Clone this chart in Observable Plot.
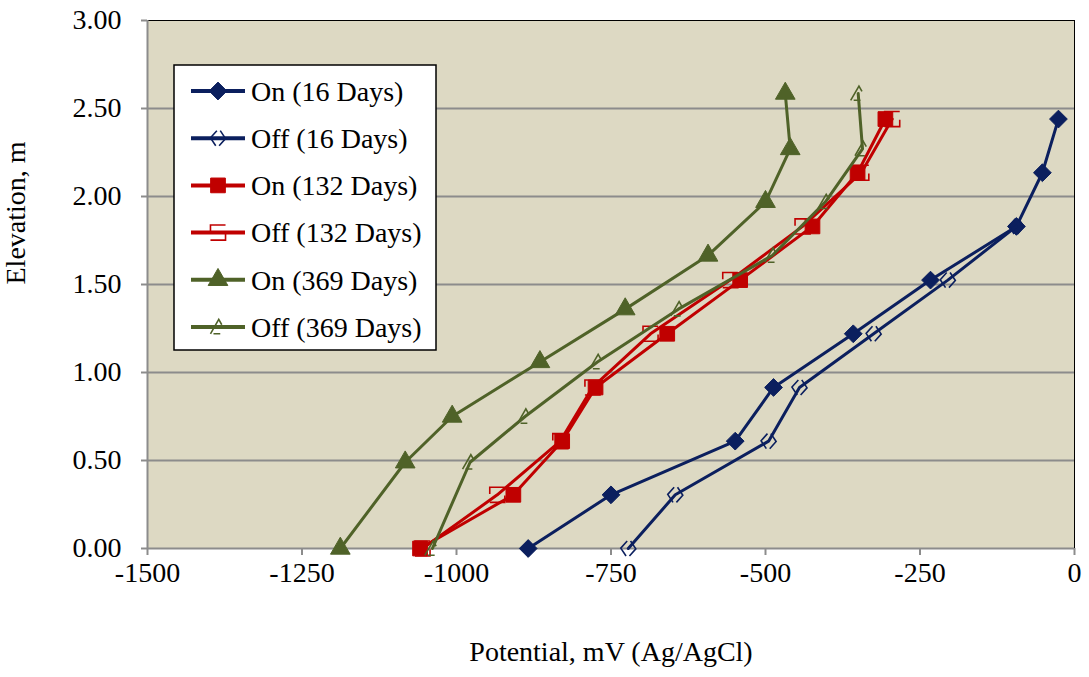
<!DOCTYPE html>
<html><head><meta charset="utf-8">
<script src="https://cdn.jsdelivr.net/npm/d3@7"></script>
<script src="https://cdn.jsdelivr.net/npm/@observablehq/plot@0.6"></script>
<style>
  body { margin: 0; background: #fff; }
  #chart svg { display: block; }
</style>
</head><body><div id="chart"></div>
<script>
// ---- data ----
const seriesNames = ["On (16 Days)", "Off (16 Days)", "On (132 Days)", "Off (132 Days)", "On (369 Days)", "Off (369 Days)"];
const elev16 = [0, 0.305, 0.61, 0.915, 1.22, 1.525, 1.83, 2.135, 2.44];
const on16 = [-884, -750, -549, -487, -358, -233, -94, -52, -26];
const off16 = [-722, -646, -495, -445, -325, -205, -94];
const elev132 = [0, 0.305, 0.61, 0.915, 1.22, 1.525, 1.83, 2.135, 2.44];
const on132 = [-1059, -908, -829, -775, -659, -541, -424, -351, -306];
const off132 = [-1055, -934, -832, -780, -686, -557, -440, -345, -295];
const elev369 = [0, 0.49, 0.75, 1.06, 1.36, 1.665, 1.97, 2.27, 2.585];
const on369 = [-1188, -1083, -1007, -865, -727, -593, -500, -460, -468];
const off369 = [-1039, -978, -889, -772, -641, -489, -403, -343, -350];
const xTicks = [-1500, -1250, -1000, -750, -500, -250, 0];
const yTicks = [0, 0.5, 1, 1.5, 2, 2.5, 3];
const xLabel = "Potential, mV (Ag/AgCl)";
const yLabel = "Elevation, m";

// ---- styles ----
const colors = ["#0B1F5E", "#0B1F5E", "#C00000", "#C00000", "#4F6228", "#4F6228"];
const offBlue = { draw(ctx, size) { const r = Math.sqrt(size) / 2;
  ctx.moveTo(-0.15 * r, -r); ctx.lineTo(-r, -0.05 * r); ctx.lineTo(-0.3 * r, r);
  ctx.moveTo(0.3 * r, -r); ctx.lineTo(r, 0.05 * r); ctx.lineTo(0.15 * r, r); } };
const offRed = { draw(ctx, size) { const r = Math.sqrt(size) / 2;
  ctx.moveTo(r, -r); ctx.lineTo(-r, -r); ctx.lineTo(-r, -0.1 * r);
  ctx.moveTo(-r, r); ctx.lineTo(r, r); ctx.lineTo(r, 0.1 * r); } };
const offGreen = { draw(ctx, size) { const r = Math.sqrt(size) / 2;
  ctx.moveTo(-r, 0.9 * r); ctx.lineTo(0.1 * r, -r); ctx.lineTo(0.5 * r, -0.3 * r);
  ctx.moveTo(-0.6 * r, 0.9 * r); ctx.lineTo(0.3 * r, 0.9 * r); } };
const symbols = [d3.symbolDiamond2, offBlue, d3.symbolSquare, offRed, d3.symbolTriangle, offGreen];
const sizes = [8, 8.5, 8.3, 8.5, 7.3, 8.5];
const filled = [true, false, true, false, true, false];

const seriesData = [
  [elev16, on16], [elev16, off16], [elev132, on132], [elev132, off132], [elev369, on369], [elev369, off369]
].map(([e, v], i) => v.map((x, j) => ({ series: seriesNames[i], x, y: e[j] })));

const marks = [
  Plot.frame({ fill: "#DDD9C3" }),
  Plot.gridY(yTicks.slice(1, -1), { stroke: "#8C8C8C", strokeOpacity: 1, strokeWidth: 2 }),
  Plot.frame({ stroke: "#000", strokeWidth: 1 }),
  Plot.ruleX([xTicks[0]], { stroke: "#8C8C8C", strokeWidth: 2 }),
  Plot.ruleY([yTicks[0]], { stroke: "#8C8C8C", strokeWidth: 2 }),
  Plot.axisX(xTicks, { tickSize: 7, tickPadding: 7, tickFormat: d => String(d), stroke: "#8C8C8C", strokeWidth: 2, label: null }),
  Plot.axisY(yTicks, { tickSize: 6, tickPadding: 20, tickFormat: d => d.toFixed(2), stroke: "#8C8C8C", strokeWidth: 2, label: null }),
  Plot.text([xLabel], { frameAnchor: "bottom", dy: 112, fontSize: 28 }),
  Plot.text([yLabel], { frameAnchor: "left", dx: -131, rotate: -90, fontSize: 28 })
];
seriesData.forEach((rows, i) => {
  marks.push(Plot.line(rows, { x: "x", y: "y", stroke: colors[i], strokeWidth: 3 }));
  marks.push(Plot.dot(rows, {
    x: "x", y: "y", symbol: () => symbols[i], r: sizes[i],
    fill: filled[i] ? colors[i] : "none", stroke: colors[i], strokeWidth: filled[i] ? 1 : 1.6
  }));
});

const chart = Plot.plot({
  width: 1089, height: 677,
  marginLeft: 147, marginRight: 15, marginTop: 20, marginBottom: 129,
  x: { domain: [xTicks[0], xTicks[xTicks.length - 1]] },
  y: { domain: [yTicks[0], yTicks[yTicks.length - 1]] },
  symbol: { type: "identity" },
  style: { fontFamily: "'Liberation Serif', 'Times New Roman', serif", fontSize: "28px", color: "#000", background: "#fff" },
  marks
});
document.getElementById("chart").appendChild(chart);

// ---- legend (inside plot area) ----
const svg = d3.select(chart);
const lg = svg.append("g").attr("font-family", "'Liberation Serif', serif").attr("font-size", 28)
  .attr("text-anchor", "start");
lg.append("rect").attr("x", 174).attr("y", 65).attr("width", 262).attr("height", 285)
  .attr("fill", "#fff").attr("stroke", "#000").attr("stroke-width", 1.5);
seriesNames.forEach((name, i) => {
  const cy = 91 + i * 47.2;
  const g = lg.append("g").attr("transform", `translate(0,${cy})`);
  g.append("line").attr("x1", 191).attr("x2", 245).attr("y1", 0).attr("y2", 0)
    .attr("stroke", colors[i]).attr("stroke-width", 4);
  g.append("path").attr("transform", "translate(218,0)")
    .attr("d", d3.symbol().type(symbols[i]).size(Math.PI * sizes[i] * sizes[i])())
    .attr("fill", filled[i] ? colors[i] : "none").attr("stroke", colors[i]).attr("stroke-width", filled[i] ? 1 : 1.6);
  g.append("text").attr("x", 251).attr("y", 0).attr("dy", "0.35em").attr("fill", "#000")
    .attr("text-anchor", "start").text(name);
});
</script>
</body></html>
